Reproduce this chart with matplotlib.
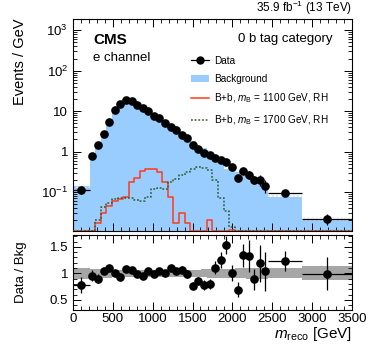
import numpy as np
import matplotlib
matplotlib.use("Agg")
import matplotlib.pyplot as plt
from matplotlib.lines import Line2D
from matplotlib.patches import Patch

plt.rcParams["font.family"] = ["Liberation Sans", "DejaVu Sans"]
plt.rcParams["mathtext.fontset"] = "custom"
plt.rcParams["mathtext.rm"] = "Liberation Sans"
plt.rcParams["mathtext.it"] = "Liberation Sans:italic"

# bin edges in GeV: one wide bin, 70 GeV bins, then two wide tail bins
edges = np.array([0, 210] + list(range(280, 2451, 70)) + [2870, 3500])

data = [0.11, 0.77, 1.43, 2.7, 5.5, 10.5, 15.3, 19.0, 17.4, 14.5, 12.0, 9.9,
        7.7, 6.8, 5.0, 4.1, 3.4, 2.6, 2.2, 1.45, 1.16, 0.93, 0.81, 0.70,
        0.63, 0.56, 0.42, 0.22, 0.34, 0.27, 0.20, 0.20, 0.145, 0.094, 0.022]
background = [0.14, 0.80, 1.55, 2.6, 5.0, 10.3, 16.0, 17.6, 16.5, 14.6, 12.4, 9.6,
              7.8, 6.6, 5.0, 3.8, 3.3, 2.45, 2.2, 1.85, 1.40, 1.2, 1.0, 0.66,
              0.52, 0.38, 0.40, 0.32, 0.25, 0.21, 0.22, 0.17, 0.145, 0.078, 0.022]
sig_1100 = [0, 0, 0.017, 0.030, 0.045, 0.060, 0.066, 0.077, 0.18, 0.23, 0.34, 0.37,
            0.37, 0.31, 0.18, 0.077, 0.017, 0.030, 0.017, 0, 0, 0, 0.021, 0,
            0, 0, 0.0118, 0, 0, 0, 0, 0, 0, 0, 0]
sig_1700 = [0, 0, 0.021, 0.042, 0.055, 0.066, 0.072, 0.072, 0.070, 0.064, 0.061, 0.077,
            0.117, 0.13, 0.117, 0.18, 0.21, 0.265, 0.32, 0.37, 0.43, 0.40, 0.35, 0.20,
            0.070, 0.034, 0.014, 0, 0, 0, 0, 0, 0, 0, 0]
ratio = [0.78, 0.955, 0.90, 1.05, 1.10, 1.0, 0.94, 1.075, 1.055, 0.99, 0.955, 1.04,
         0.99, 1.04, 1.01, 1.10, 1.04, 1.07, 0.99, 0.77, 0.855, 0.78, 0.80, 1.11,
         1.26, 1.54, 1.0, 0.69, 1.34, 1.32, 0.89, 1.19, 1.04, 1.23, 0.99]
ratio_err = [0.15, 0.10, 0.08, 0.06, 0.05, 0.04, 0.035, 0.03, 0.03, 0.03, 0.035, 0.04,
             0.04, 0.045, 0.05, 0.055, 0.06, 0.07, 0.07, 0.07, 0.08, 0.09, 0.10, 0.13,
             0.15, 0.17, 0.15, 0.14, 0.22, 0.30, 0.20, 0.35, 0.37, 0.19, 0.31]
bkg_unc = [0.11, 0.08, 0.08, 0.08, 0.08, 0.07, 0.07, 0.07, 0.07, 0.07, 0.07, 0.065,
           0.065, 0.065, 0.065, 0.065, 0.065, 0.07, 0.07, 0.07, 0.07, 0.075, 0.08, 0.085,
           0.09, 0.09, 0.09, 0.095, 0.095, 0.10, 0.10, 0.10, 0.10, 0.095, 0.13]

data = np.array(data)
ratio = np.array(ratio)
ratio_err = np.array(ratio_err)
bkg_unc = np.array(bkg_unc)
centers = 0.5 * (edges[:-1] + edges[1:])
halfw = 0.5 * np.diff(edges)
data_err = data * ratio_err / ratio

YMIN, YMAX = 0.011, 1900


def stepvals(vals):
    v = np.clip(np.asarray(vals, dtype=float), YMIN * 0.99, None)
    return np.append(v, v[-1])


fig = plt.figure(figsize=(3.74, 3.51), dpi=100)
ax = fig.add_axes([0.195, 0.342, 0.746, 0.604])
rax = fig.add_axes([0.195, 0.117, 0.746, 0.213])

bkg_c = "#99ccff"
ax.fill_between(edges, stepvals(background), YMIN * 0.5, step="post",
                color=bkg_c, lw=0, zorder=1)
bk = np.asarray(background)
ax.fill_between(edges, stepvals(bk * (1 - bkg_unc)), stepvals(bk * (1 + bkg_unc)),
                step="post", facecolor="none", edgecolor="#d8e6f2", hatch="....",
                lw=0, zorder=1.5)
ax.step(edges, stepvals(sig_1100), where="post", color="#ff3a1a", lw=1.1, zorder=3)
ax.step(edges, stepvals(sig_1700), where="post", color="#2f5f2f", lw=1.1,
        ls=(0, (1.2, 1.2)), zorder=3)
ax.errorbar(centers, data, xerr=halfw, yerr=data_err, fmt="o", color="black",
            ms=5.2, lw=0.9, capsize=0, zorder=4)

ax.set_yscale("log")
ax.set_xlim(0, 3500)
ax.set_ylim(YMIN, YMAX)
ax.set_yticks([0.1, 1, 10, 100, 1000])
ax.set_yticklabels(["$10^{-1}$", "1", "10", "$10^{2}$", "$10^{3}$"])
ax.set_xticks(np.arange(0, 3501, 500))
ax.set_xticks(np.arange(0, 3501, 100), minor=True)
ax.tick_params(labelbottom=False)
ax.set_ylabel("Events / GeV", fontsize=10.5, loc="top")
ax.yaxis.set_label_coords(-0.165, 1.0)

ax.text(0.072, 0.935, "CMS", transform=ax.transAxes, fontsize=11,
        fontweight="bold", va="top")
ax.text(0.072, 0.845, "e channel", transform=ax.transAxes, fontsize=9.5, va="top")
ax.text(0.93, 0.935, "0 b tag category", transform=ax.transAxes, fontsize=9.5,
        va="top", ha="right")
ax.text(1.0, 1.008, "35.9 fb$^{-1}$ (13 TeV)", transform=ax.transAxes,
        fontsize=8.5, ha="right", va="bottom")

handles = [
    Line2D([0], [0], color="black", marker="o", ms=5, lw=0.9),
    Patch(facecolor=bkg_c, edgecolor="none"),
    Line2D([0], [0], color="#ff3a1a", lw=1.1),
    Line2D([0], [0], color="#2f5f2f", lw=1.1, ls=(0, (1.2, 1.2))),
]
labels = ["Data", "Background", "B+b, $m_{\\mathrm{B}}$ = 1100 GeV, RH",
          "B+b, $m_{\\mathrm{B}}$ = 1700 GeV, RH"]
ax.legend(handles, labels, loc="upper left", bbox_to_anchor=(0.41, 0.845),
          frameon=False, fontsize=7.2, handlelength=1.8, handletextpad=0.5,
          labelspacing=0.8, borderaxespad=0)

# ratio panel
rax.fill_between(edges, np.append(1 - bkg_unc, 1 - bkg_unc[-1]),
                 np.append(1 + bkg_unc, 1 + bkg_unc[-1]), step="post",
                 color="#a6a6a6", lw=0, zorder=1)
rax.errorbar(centers, ratio, xerr=halfw, yerr=ratio_err, fmt="o", color="black",
             ms=5.2, lw=0.9, capsize=0, zorder=4)
rax.set_xlim(0, 3500)
rax.set_ylim(0.31, 1.72)
rax.set_yticks([0.5, 1, 1.5])
rax.set_yticklabels(["0.5", "1", "1.5"])
rax.set_yticks(np.arange(0.4, 1.71, 0.1), minor=True)
rax.set_xticks(np.arange(0, 3501, 500))
rax.set_xticks(np.arange(0, 3501, 100), minor=True)
rax.set_ylabel("Data / Bkg", fontsize=9.5)
rax.yaxis.set_label_coords(-0.165, 0.5)
rax.set_xlabel("$m_{\\mathrm{reco}}$ [GeV]", fontsize=11, loc="right", labelpad=0)

for a in (ax, rax):
    a.tick_params(which="both", direction="in", top=True, right=True, labelsize=9.5)
    a.tick_params(which="major", length=6, width=0.7)
    a.tick_params(which="minor", length=3, width=0.6)
    for s in a.spines.values():
        s.set_linewidth(0.8)
rax.tick_params(axis="x", which="major", pad=2.5)

fig.savefig("out.png", dpi=100)
